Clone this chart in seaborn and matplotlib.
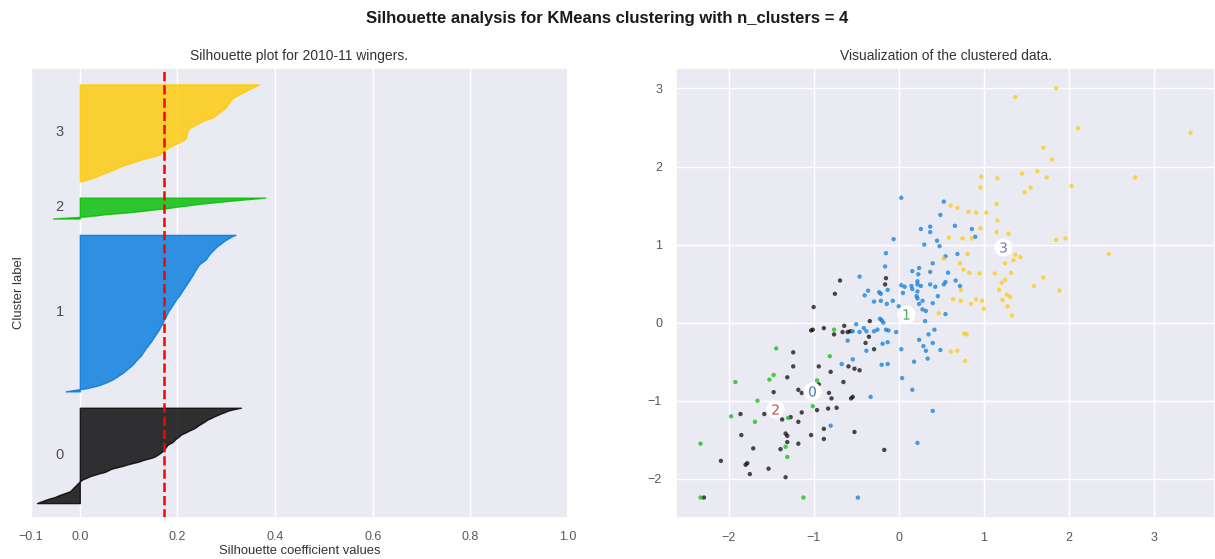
import numpy as np
import pandas as pd
import matplotlib
matplotlib.use("Agg")
import matplotlib.pyplot as plt
from matplotlib import cm
import seaborn as sns

n_clusters = 4

# Silhouette coefficient of every sample, grouped by assigned cluster
sil_cluster_0 = [
    -0.088, -0.080, -0.072, -0.063, -0.052, -0.045, -0.037, -0.028, -0.020, -0.017,
    -0.014, -0.011, -0.008, -0.005, -0.002, 0.002, 0.006, 0.014, 0.020, 0.030,
    0.040, 0.052, 0.058, 0.064, 0.076, 0.088, 0.098, 0.110, 0.122, 0.130,
    0.142, 0.152, 0.157, 0.162, 0.166, 0.170, 0.172, 0.175, 0.177, 0.179,
    0.184, 0.190, 0.193, 0.196, 0.200, 0.204, 0.207, 0.214, 0.220, 0.226,
    0.233, 0.238, 0.242, 0.247, 0.252, 0.257, 0.261, 0.268, 0.274, 0.281,
    0.288, 0.296, 0.303, 0.315, 0.330,
]
sil_cluster_1 = [
    -0.029, -0.010, 0.012, 0.025, 0.038, 0.046, 0.054, 0.061, 0.067, 0.072,
    0.077, 0.081, 0.086, 0.090, 0.094, 0.097, 0.101, 0.105, 0.108, 0.111,
    0.113, 0.116, 0.119, 0.122, 0.125, 0.127, 0.129, 0.131, 0.133, 0.135,
    0.138, 0.140, 0.142, 0.145, 0.147, 0.149, 0.151, 0.153, 0.155, 0.157,
    0.159, 0.161, 0.163, 0.164, 0.166, 0.168, 0.169, 0.171, 0.172, 0.174,
    0.176, 0.177, 0.179, 0.180, 0.182, 0.184, 0.186, 0.188, 0.190, 0.192,
    0.194, 0.196, 0.198, 0.200, 0.203, 0.205, 0.207, 0.209, 0.211, 0.213,
    0.215, 0.217, 0.219, 0.221, 0.223, 0.225, 0.227, 0.229, 0.231, 0.233,
    0.234, 0.236, 0.238, 0.240, 0.242, 0.244, 0.247, 0.252, 0.256, 0.259,
    0.261, 0.263, 0.265, 0.268, 0.271, 0.274, 0.277, 0.280, 0.284, 0.288,
    0.292, 0.296, 0.301, 0.306, 0.311, 0.319,
]
sil_cluster_2 = [
    -0.055, -0.003, 0.030, 0.055, 0.095, 0.125, 0.150, 0.180, 0.200, 0.225,
    0.250, 0.280, 0.310, 0.345, 0.380,
]
sil_cluster_3 = [
    0.004, 0.014, 0.024, 0.032, 0.040, 0.047, 0.055, 0.062, 0.070, 0.077,
    0.084, 0.093, 0.102, 0.111, 0.120, 0.130, 0.142, 0.155, 0.163, 0.167,
    0.171, 0.175, 0.179, 0.183, 0.189, 0.196, 0.203, 0.209, 0.214, 0.217,
    0.218, 0.219, 0.219, 0.220, 0.221, 0.222, 0.226, 0.232, 0.238, 0.243,
    0.248, 0.256, 0.265, 0.273, 0.277, 0.281, 0.285, 0.289, 0.293, 0.297,
    0.300, 0.302, 0.304, 0.306, 0.308, 0.311, 0.314, 0.319, 0.325, 0.331,
    0.337, 0.342, 0.348, 0.354, 0.360, 0.367,
]
silhouette_by_cluster = [sil_cluster_0, sil_cluster_1, sil_cluster_2, sil_cluster_3]

# Two-feature coordinates of the clustered players
pts_cluster_0 = [
    (-0.69, 0.54), (-0.75, 0.37), (-0.15, 0.57), (-0.16, 0.49), (-1.00, 0.20),
    (-0.64, -0.04), (-0.88, -0.07), (-1.01, -0.09), (-1.03, -0.10), (-0.76, -0.15),
    (-0.66, -0.12), (-0.60, -0.12), (-0.57, -0.11), (-0.34, 0.02), (-0.39, -0.26),
    (-0.35, -0.18), (-0.29, -0.34), (-1.24, -0.38), (-1.24, -0.56), (-0.94, -0.56),
    (-0.59, -0.56), (-0.52, -0.59), (-0.46, -0.61), (-1.31, -0.70), (-0.80, -0.63),
    (-0.65, -0.76), (-1.18, -0.86), (-1.14, -0.90), (-1.47, -0.89), (-0.94, -0.79),
    (-0.82, -0.90), (-0.79, -0.97), (-0.56, -0.97), (-0.54, -0.95), (-1.86, -1.17),
    (-1.58, -1.17), (-1.14, -1.15), (-0.96, -1.12), (-0.83, -1.10), (-0.73, -1.09),
    (-1.37, -1.24), (-1.27, -1.21), (-1.18, -1.27), (-0.88, -1.36), (-1.03, -1.44),
    (-0.88, -1.49), (-1.33, -1.42), (-1.31, -1.45), (-1.31, -1.53), (-1.85, -1.44),
    (-1.18, -1.55), (-1.71, -1.61), (-1.39, -1.62), (-0.52, -1.40), (-0.17, -1.63),
    (-2.09, -1.77), (-1.80, -1.82), (-1.78, -1.80), (-1.53, -1.87), (-1.75, -1.94),
    (-1.33, -1.98), (-2.29, -2.24),
]
pts_cluster_1 = [
    (0.03, 1.60), (0.53, 1.55), (0.49, 1.38), (0.26, 1.20), (0.37, 1.23),
    (0.37, 1.16), (0.66, 1.24), (0.86, 1.20), (0.90, 1.10), (0.45, 1.05),
    (0.48, 0.98), (0.30, 1.00), (-0.06, 1.07), (-0.15, 0.89), (0.55, 0.85),
    (0.69, 0.88), (-0.16, 0.72), (0.40, 0.76), (0.24, 0.70), (0.16, 0.66),
    (0.23, 0.62), (0.37, 0.65), (0.58, 0.64), (-0.46, 0.59), (0.03, 0.48),
    (0.07, 0.46), (0.22, 0.53), (0.22, 0.49), (0.15, 0.47), (0.26, 0.47),
    (0.37, 0.49), (0.43, 0.46), (0.53, 0.49), (0.55, 0.52), (0.67, 0.54),
    (0.72, 0.47), (-0.23, 0.39), (-0.13, 0.42), (-0.36, 0.41), (-0.40, 0.35),
    (0.21, 0.34), (0.46, 0.34), (-0.29, 0.27), (-0.21, 0.37), (-0.21, 0.28),
    (-0.14, 0.24), (-0.07, 0.28), (0.16, 0.43), (0.22, 0.40), (0.28, 0.28),
    (0.24, 0.24), (0.32, 0.15), (0.40, 0.25), (0.28, 0.17), (0.22, 0.31),
    (0.05, 0.38), (0.00, 0.21), (0.31, 0.02), (0.55, 0.11), (-0.50, -0.02),
    (-0.54, -0.11), (-0.46, -0.12), (-0.41, -0.07), (-0.38, -0.11), (-0.29, -0.11),
    (-0.25, -0.09), (-0.20, 0.03), (-0.18, 0.00), (-0.22, 0.05), (-0.15, -0.09),
    (-0.12, -0.10), (-0.03, -0.12), (-0.60, -0.23), (-0.19, -0.27), (-0.38, -0.36),
    (-0.13, -0.25), (0.03, -0.34), (0.24, -0.22), (0.29, -0.30), (0.32, -0.36),
    (0.40, -0.26), (0.35, -0.15), (0.42, -0.09), (0.49, -0.35), (0.18, -0.50),
    (0.34, -0.46), (-0.13, -0.53), (-0.20, -0.54), (-0.67, -0.53), (-0.54, -0.47),
    (0.04, -0.71), (0.16, -0.86), (-0.33, -0.95), (0.40, -1.13), (0.22, -1.54),
    (-0.80, -1.32), (-0.48, -2.24),
]
pts_cluster_2 = [
    (-1.92, -0.76), (-1.52, -0.73), (-1.47, -0.67), (-1.66, -1.00), (-1.97, -1.20),
    (-1.69, -1.27), (-2.33, -1.55), (-1.30, -1.22), (-1.33, -1.59), (-1.31, -1.72),
    (-2.33, -2.24), (-1.12, -2.24), (-1.01, -1.07), (-0.96, -0.74), (-0.76, -0.09),
    (-1.44, -0.33), (-0.81, -0.43),
]
pts_cluster_3 = [
    (1.37, 2.89), (1.85, 3.00), (2.11, 2.49), (3.43, 2.43), (1.70, 2.24),
    (1.80, 2.09), (2.78, 1.86), (2.03, 1.75), (1.45, 1.91), (1.63, 1.94),
    (1.74, 1.86), (1.55, 1.73), (1.48, 1.67), (1.16, 1.85), (0.97, 1.87),
    (0.96, 1.73), (0.61, 1.50), (0.69, 1.47), (0.82, 1.42), (0.91, 1.41),
    (1.03, 1.41), (1.15, 1.52), (1.16, 1.31), (0.96, 1.21), (1.15, 1.16),
    (1.29, 1.14), (0.59, 1.09), (0.75, 1.08), (0.86, 1.08), (1.85, 1.06),
    (1.96, 1.08), (2.47, 0.88), (1.37, 0.87), (1.43, 0.84), (1.35, 0.80),
    (0.81, 0.88), (0.53, 0.82), (0.72, 0.76), (0.76, 0.68), (0.83, 0.64),
    (0.95, 0.63), (1.13, 0.63), (1.25, 0.76), (1.32, 0.64), (1.25, 0.55),
    (1.21, 0.51), (1.70, 0.58), (1.59, 0.47), (1.89, 0.41), (1.18, 0.42),
    (1.27, 0.36), (1.31, 0.33), (1.22, 0.29), (0.91, 0.30), (0.98, 0.28),
    (0.85, 0.24), (0.64, 0.30), (0.73, 0.42), (0.73, 0.28), (1.00, 0.18),
    (1.28, 0.21), (1.33, 0.09), (0.47, 0.12), (0.77, -0.14), (0.80, -0.15),
    (0.61, -0.37), (0.69, -0.36), (0.78, -0.49),
]
points_by_cluster = [pts_cluster_0, pts_cluster_1, pts_cluster_2, pts_cluster_3]

# Cluster centres in the same feature space
center_x = [-1.02, 0.08, -1.46, 1.23]
center_y = [-0.88, 0.11, -1.11, 0.97]

xtick_values = [-0.1, 0, 0.2, 0.4, 0.6, 0.8, 1]

sns.set_theme(style="darkgrid")
plt.rcParams["font.family"] = ["Liberation Sans", "DejaVu Sans"]

W, H = 1215, 559
fig = plt.figure(figsize=(W / 100, H / 100), dpi=100)
ax1 = fig.add_axes([31 / W, 41 / H, (568 - 31) / W, 450 / H])
ax2 = fig.add_axes([676 / W, 41 / H, (1215 - 676) / W, 450 / H])

# --- silhouette plot ---
n_samples = sum(len(v) for v in silhouette_by_cluster)
ax1.set_xlim([-0.1, 1])
ax1.set_ylim([0, n_samples + (n_clusters + 1) * 10])

y_lower = 10
for i, vals in enumerate(silhouette_by_cluster):
    vals = np.sort(np.asarray(vals))
    size = vals.shape[0]
    y_upper = y_lower + size
    color = cm.nipy_spectral(float(i) / n_clusters)
    ax1.fill_betweenx(np.arange(y_lower, y_upper), 0, vals,
                      facecolor=color, edgecolor=color, alpha=0.8)
    ax1.text(-0.05, y_lower + 0.5 * size, str(i), fontsize=10.5,
             va="center", ha="left", color="0.3")
    y_lower = y_upper + 10

silhouette_avg = np.mean(np.concatenate([np.asarray(v) for v in silhouette_by_cluster]))
ax1.axvline(x=silhouette_avg, color="red", linestyle="--", linewidth=1.8)

ax1.set_title("Silhouette plot for 2010-11 wingers.", fontsize=10, color="0.2")
ax1.set_xlabel("Silhouette coefficient values", fontsize=9.4, color="0.2", labelpad=2)
ax1.set_ylabel("Cluster label", fontsize=9.4, color="0.2")
ax1.set_yticks([])
ax1.set_xticks(xtick_values)
ax1.tick_params(axis="x", labelsize=9, colors="0.35", pad=3)

# --- scatter of clustered data ---
rows = []
for i, pts in enumerate(points_by_cluster):
    for (x, y) in pts:
        rows.append({"x": x, "y": y, "cluster": i})
df = pd.DataFrame(rows)
palette = {i: cm.nipy_spectral(float(i) / n_clusters) for i in range(n_clusters)}
sns.scatterplot(data=df, x="x", y="y", hue="cluster", palette=palette,
                marker="o", s=10, linewidth=0, alpha=0.7, legend=False, ax=ax2)

centers = pd.DataFrame({"x": center_x, "y": center_y})
sns.scatterplot(data=centers, x="x", y="y", color="white", marker="o", s=170,
                linewidth=0, legend=False, ax=ax2)
digit_colors = ["#4C72B0", "#55A868", "#C44E52", "#8172B2"]
for i in range(n_clusters):
    ax2.scatter(center_x[i], center_y[i], marker="$%d$" % i, s=55,
                color=digit_colors[i], linewidths=0, zorder=4)

ax2.set_title("Visualization of the clustered data.", fontsize=10, color="0.2")
ax2.set_xlabel("")
ax2.set_ylabel("")
ax2.set_xticks([-2, -1, 0, 1, 2, 3])
ax2.set_yticks([-2, -1, 0, 1, 2, 3])
ax2.tick_params(labelsize=9, colors="0.35", pad=4)

fig.suptitle("Silhouette analysis for KMeans clustering with n_clusters = 4",
             fontsize=12, fontweight="bold", y=1 - 18 / H, va="center", color="0.1")

fig.savefig("out.png", dpi=100)
print("avg", silhouette_avg, "xlim", ax2.get_xlim(), "ylim", ax2.get_ylim())
